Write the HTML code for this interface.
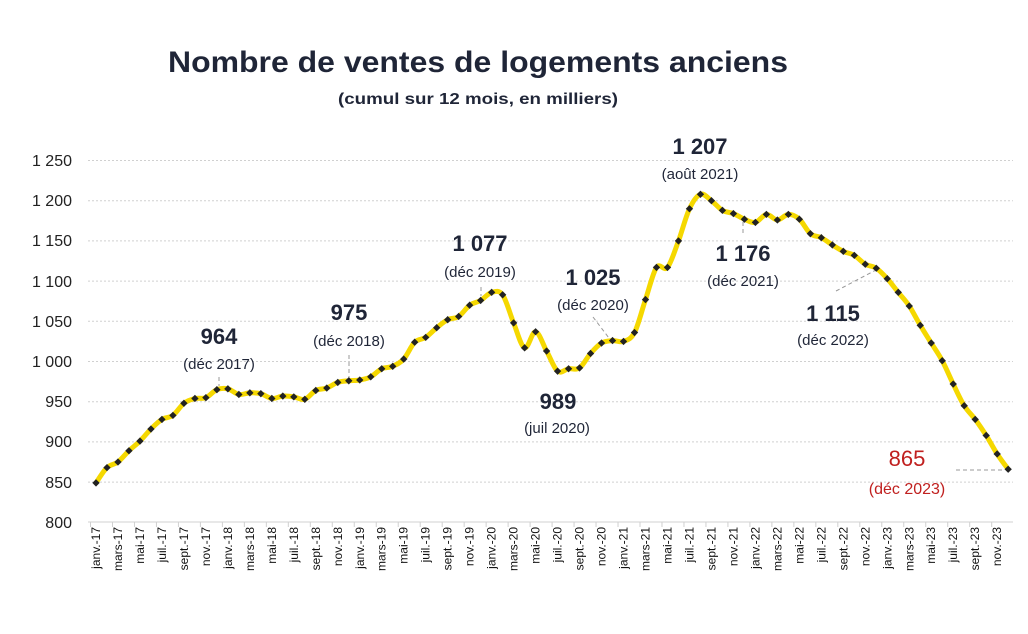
<!DOCTYPE html>
<html><head><meta charset="utf-8"><style>
body{margin:0;background:#fff}
svg text{font-family:"Liberation Sans",sans-serif}
</style></head><body>
<svg width="1028" height="629" viewBox="0 0 1028 629" xmlns="http://www.w3.org/2000/svg">
<rect width="1028" height="629" fill="#fff"/>
<text x="168" y="72" font-size="30" font-weight="bold" fill="#1f2537" textLength="620" lengthAdjust="spacingAndGlyphs">Nombre de ventes de logements anciens</text>
<text x="338" y="104" font-size="16" font-weight="bold" fill="#1f2537" textLength="280" lengthAdjust="spacingAndGlyphs">(cumul sur 12 mois, en milliers)</text>
<g stroke="#d0d0d0" stroke-width="1" stroke-dasharray="2,2">
<line x1="88" x2="1013" y1="160.5" y2="160.5"/><line x1="88" x2="1013" y1="200.7" y2="200.7"/>
<line x1="88" x2="1013" y1="240.9" y2="240.9"/><line x1="88" x2="1013" y1="281.1" y2="281.1"/>
<line x1="88" x2="1013" y1="321.3" y2="321.3"/><line x1="88" x2="1013" y1="361.5" y2="361.5"/>
<line x1="88" x2="1013" y1="401.7" y2="401.7"/><line x1="88" x2="1013" y1="441.9" y2="441.9"/>
<line x1="88" x2="1013" y1="482.1" y2="482.1"/>
</g>
<line x1="88" x2="1013" y1="522" y2="522" stroke="#d0d0d0"/>
<g font-size="16" fill="#222" text-anchor="end">
<text x="72" y="166">1 250</text><text x="72" y="206">1 200</text><text x="72" y="246">1 150</text>
<text x="72" y="287">1 100</text><text x="72" y="327">1 050</text><text x="72" y="367">1 000</text>
<text x="72" y="407">950</text><text x="72" y="447">900</text><text x="72" y="488">850</text><text x="72" y="528">800</text>
</g>
<g id="xl" font-size="12" fill="#111" text-anchor="end"></g>
<g id="tk" stroke="#d0d0d0"></g>
<g stroke="#999" stroke-dasharray="4,3" stroke-width="1">
<line x1="219" y1="377" x2="219" y2="386"/>
<line x1="349" y1="355" x2="349" y2="380"/>
<line x1="481" y1="287" x2="481" y2="296"/>
<line x1="593" y1="317" x2="612" y2="342"/>
<line x1="743" y1="222" x2="743" y2="234"/>
<line x1="836" y1="291" x2="876" y2="270"/>
<line x1="956" y1="470" x2="1005" y2="470"/>
</g>
<path id="ln" fill="none" stroke="#f5d800" stroke-width="5" stroke-linejoin="round" stroke-linecap="round"/>
<g id="mk" fill="#222"></g>
<g fill="#1f2537" text-anchor="middle">
<text x="219" y="344" font-size="22" font-weight="bold">964</text><text x="219" y="369" font-size="15">(déc 2017)</text>
<text x="349" y="320" font-size="22" font-weight="bold">975</text><text x="349" y="346" font-size="15">(déc 2018)</text>
<text x="480" y="251" font-size="22" font-weight="bold">1 077</text><text x="480" y="277" font-size="15">(déc 2019)</text>
<text x="558" y="409" font-size="22" font-weight="bold">989</text><text x="557" y="433" font-size="15">(juil 2020)</text>
<text x="593" y="285" font-size="22" font-weight="bold">1 025</text><text x="593" y="310" font-size="15">(déc 2020)</text>
<text x="700" y="154" font-size="22" font-weight="bold">1 207</text><text x="700" y="179" font-size="15">(août 2021)</text>
<text x="743" y="261" font-size="22" font-weight="bold">1 176</text><text x="743" y="286" font-size="15">(déc 2021)</text>
<text x="833" y="321" font-size="22" font-weight="bold">1 115</text><text x="833" y="345" font-size="15">(déc 2022)</text>
<text x="907" y="466" font-size="22" fill="#c0201f">865</text><text x="907" y="494" font-size="16" fill="#c0201f">(déc 2023)</text>
</g>
</svg>
<script>
var v=[848,867,874,888,900,915,927,932,947,953,954,964,965,958,960,959,953,956,955,952,963,966,973,975,976,980,990,993,1002,1023,1029,1041,1051,1055,1069,1075,1085,1082,1047,1016,1036,1012,987,990,991,1009,1022,1025,1024,1035,1076,1116,1116,1149,1189,1207,1199,1187,1183,1176,1172,1182,1175,1182,1176,1158,1153,1144,1136,1131,1120,1115,1102,1085,1068,1044,1022,1000,971,944,927,907,884,865];
var ns="http://www.w3.org/2000/svg",P=[],mk=document.getElementById('mk');
v.forEach(function(d,i){var x=96+i*10.99,y=521.5-(d-800)*0.804;P.push([x,y]);
var r=document.createElementNS(ns,'rect');r.setAttribute('x',x-2.6);r.setAttribute('y',y-2.6);r.setAttribute('width',5.2);r.setAttribute('height',5.2);r.setAttribute('transform','rotate(45 '+x+' '+y+')');mk.appendChild(r);});
var d='M'+P[0][0]+','+P[0][1];
for(var i=0;i<P.length-1;i++){var p0=P[i>0?i-1:i],p1=P[i],p2=P[i+1],p3=P[i+2<P.length?i+2:i+1];
var c1x=p1[0]+(p2[0]-p0[0])/6,c1y=p1[1]+(p2[1]-p0[1])/6,c2x=p2[0]-(p3[0]-p1[0])/6,c2y=p2[1]-(p3[1]-p1[1])/6;
d+=' C'+c1x.toFixed(1)+','+c1y.toFixed(1)+' '+c2x.toFixed(1)+','+c2y.toFixed(1)+' '+p2[0].toFixed(1)+','+p2[1].toFixed(1);}
document.getElementById('ln').setAttribute('d',d);
var m=['janv.','mars-','mai-','juil.','sept.','nov.'],xl=document.getElementById('xl'),tk=document.getElementById('tk');
for(var i=0;i<84;i+=2){var x=96+i*10.99,yr=17+Math.floor(i/12);var t=document.createElementNS(ns,'text');
t.setAttribute('transform','translate('+(x+4)+',527) rotate(-90)');t.textContent=m[(i%12)/2]+(m[(i%12)/2].slice(-1)=='.'?'-':'')+yr;xl.appendChild(t);
var l=document.createElementNS(ns,'line');var tx=x-5.5;l.setAttribute('x1',tx);l.setAttribute('x2',tx);l.setAttribute('y1',522);l.setAttribute('y2',527);tk.appendChild(l);}
</script>
</body></html>
